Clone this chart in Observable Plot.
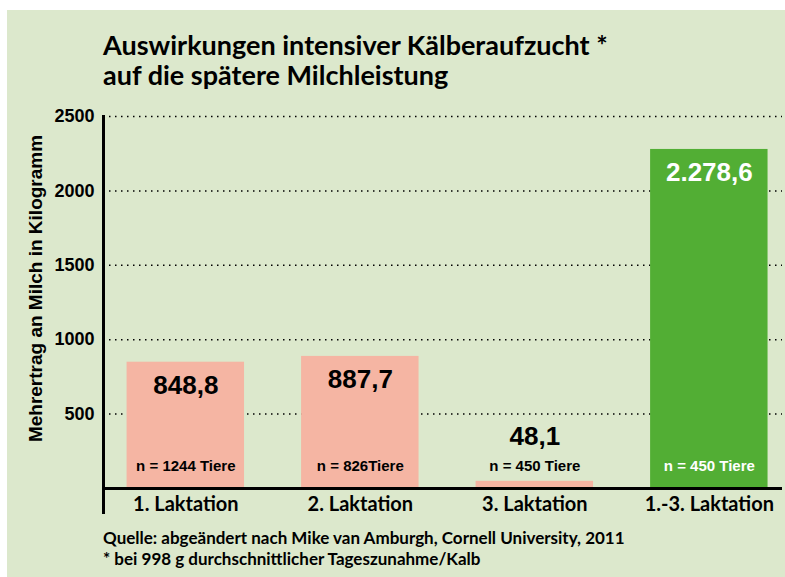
<!DOCTYPE html>
<html><head><meta charset="utf-8">
<script src="https://cdn.jsdelivr.net/npm/d3@7"></script>
<script src="https://cdn.jsdelivr.net/npm/@observablehq/plot@0.6"></script>
<style>
html,body{margin:0;padding:0;background:#fff;}
#panel{position:absolute;left:7px;top:10px;width:778px;height:567px;background:#dce8cc;overflow:hidden;}
#title{margin:20px 0 0 96px;font-family:Lato,sans-serif;font-weight:700;font-size:27px;line-height:30px;color:#000;}
#caption{margin:7px 0 0 96px;font-family:Lato,sans-serif;font-weight:700;font-size:17px;line-height:21px;color:#000;}
#chart svg{display:block;}
</style></head><body>
<div id="panel">
<div id="title">Auswirkungen intensiver Kälberaufzucht *<br>auf die spätere Milchleistung</div>
<div id="chart"></div>
<div id="caption">Quelle: abgeändert nach Mike van Amburgh, Cornell University, 2011<br>* bei 998 g durchschnittlicher Tageszunahme/Kalb</div>
</div>
<script>
const categories = ["1. Laktation", "2. Laktation", "3. Laktation", "1.-3. Laktation"];
const values = [848.8, 887.7, 48.1, 2278.6];
const animals = ["n = 1244 Tiere", "n = 826Tiere", "n = 450 Tiere", "n = 450 Tiere"];
const barColors = ["#f5b5a3", "#f5b5a3", "#f5b5a3", "#52ae34"];
const labelColors = ["#000", "#000", "#000", "#fff"];
const yTicks = [500, 1000, 1500, 2000, 2500];

const fmt = d3.formatLocale({decimal: ",", thousands: ".", grouping: [3], currency: ["", "€"]}).format(",.1f");
const data = categories.map((c, i) => ({category: c, value: values[i], n: animals[i], fill: barColors[i], ink: labelColors[i], label: fmt(values[i])}));

const chart = Plot.plot({
  width: 778, height: 430,
  marginTop: 26, marginBottom: 32, marginLeft: 96, marginRight: 3,
  style: {background: "transparent", fontFamily: "'Liberation Sans', Arial, sans-serif", color: "#000", overflow: "visible"},
  x: {domain: categories, paddingInner: 0.327, paddingOuter: 0.109, align: 0.62, round: false},
  y: {domain: [0, 2500]},
  color: {type: "identity"},
  marks: [
    Plot.ruleY(yTicks, {stroke: "#000", strokeWidth: 1.5, strokeDasharray: "1.5 4.5"}),
    Plot.barY(data, {x: "category", y: "value", fill: "fill"}),
    Plot.ruleY([0], {stroke: "#000", strokeWidth: 3}),
    Plot.frame({anchor: "left", stroke: "#000", strokeWidth: 3, insetBottom: -24}),
    Plot.axisY({ticks: yTicks, tickFormat: d => String(d), tickSize: 0, tickPadding: 9, fontSize: 18, fontWeight: "bold", label: null}),
    Plot.axisX({tickSize: 0, tickPadding: 8, fontSize: 20, fontWeight: "bold", fontFamily: "Lato", label: null}),
    Plot.text(["Mehrertrag an Milch in Kilogramm"], {frameAnchor: "left", textAnchor: "middle", rotate: -90, dx: -68, dy: -14, fontSize: 19, fontWeight: "bold"}),
    Plot.text(data.filter(d => d.value >= 200), {x: "category", y: "value", text: "label", fill: "ink", dy: 23, fontSize: 26, fontWeight: "bold"}),
    Plot.text(data.filter(d => d.value < 200), {x: "category", y: 0, text: "label", fill: "ink", dy: -52, fontSize: 26, fontWeight: "bold"}),
    Plot.text(data, {x: "category", y: 0, text: "n", fill: "ink", dy: -22, fontSize: 15, fontWeight: "bold"})
  ]
});
document.getElementById("chart").appendChild(chart);
</script>
</body></html>
